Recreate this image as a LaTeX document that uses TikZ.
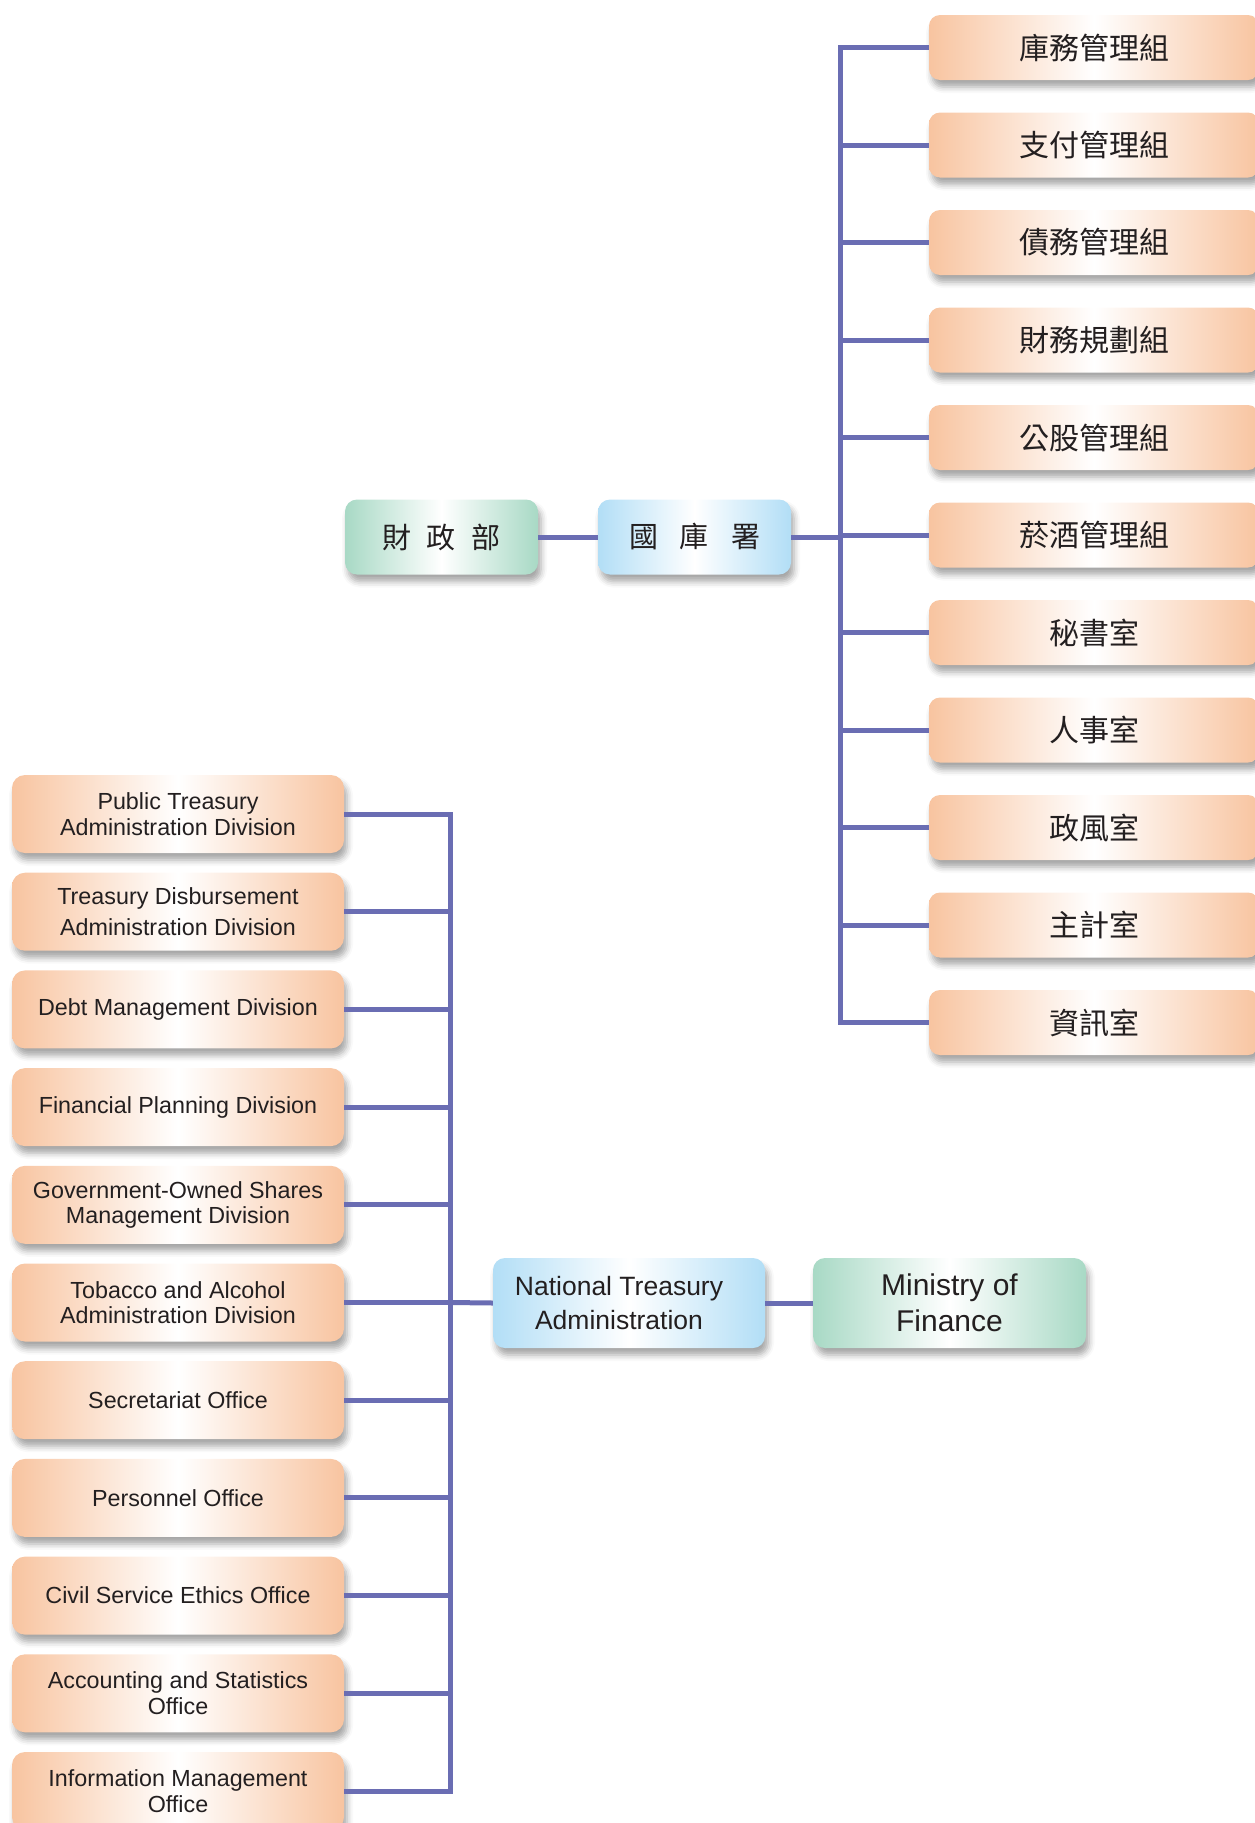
\documentclass[tikz,border=0pt]{standalone}
\usepackage{fontspec}
\setmainfont{Liberation Sans}
\newfontfamily\cjk{Noto Sans CJK TC}
\usetikzlibrary{shadows.blur}
\definecolor{lineC}{HTML}{6A6DB3}
\definecolor{orgC}{HTML}{F8C4A0}
\definecolor{grnC}{HTML}{A8D9C5}
\definecolor{bluC}{HTML}{B2DEF6}
\definecolor{txtC}{HTML}{231F20}
\tikzset{
  boxbase/.style={rounded corners=12pt, text=txtC, align=center, inner sep=0pt,
    blur shadow={shadow xshift=3pt, shadow yshift=-7pt, shadow blur radius=6pt, shadow opacity=35}},
  orgbox/.style={boxbase, left color=orgC, right color=orgC, middle color=white},
  grnbox/.style={boxbase, left color=grnC, right color=grnC, middle color=white},
  blubox/.style={boxbase, left color=bluC, right color=bluC, middle color=white},
  rbox/.style={orgbox, minimum width=330pt, minimum height=65pt, rounded corners=11pt,
    font=\cjk\fontsize{30}{32}\selectfont},
  lbox/.style={orgbox, minimum width=332pt, minimum height=78pt, rounded corners=13pt,
    font=\fontsize{23.3}{25.5}\selectfont},
  plaintext/.style={text=txtC, align=center, inner sep=0pt},
  conn/.style={draw=lineC, line width=5pt}
}
\begin{document}
\begin{tikzpicture}[x=1pt,y=-1pt]
\useasboundingbox (0,0) rectangle (1255,1823);
% top half
\node[grnbox, minimum width=193pt, minimum height=75pt, font=\cjk\fontsize{29}{32}\selectfont]
  (zMOF) at (441.5,537) {財\hspace{16pt}政\hspace{16pt}部};
\node[blubox, minimum width=193pt, minimum height=75pt, font=\cjk\fontsize{29}{32}\selectfont]
  (zNTA) at (694.5,537) {國\hspace{22pt}庫\hspace{22pt}署};
\foreach \i/\t in {1/庫務管理組,2/支付管理組,3/債務管理組,4/財務規劃組,5/公股管理組,6/菸酒管理組,7/秘書室,8/人事室,9/政風室,10/主計室,11/資訊室}{
  \node[rbox] (R\i) at (1094,{47.5+97.5*(\i-1)}) {\t};
}
\coordinate (busR) at (840,0);
\draw[conn, line cap=rect] (R1.west -| busR) -- (R11.west -| busR);
\foreach \i in {1,...,11}{ \draw[conn] (R\i.west) -- (R\i.west -| busR); }
\draw[conn] (zMOF.east) -- (zNTA.west);
\draw[conn] (zNTA.east) -- (zNTA.east -| busR);
% bottom half
\node[lbox] (L1) at (178,814) {Public Treasury\\Administration Division};
\node[lbox, font=\fontsize{23.3}{31}\selectfont] (L2) at (178,911.7) {Treasury Disbursement\\Administration Division};
\node[lbox] (L3) at (178,1009.4) {Debt Management Division};
\node[lbox] (L4) at (178,1107.1) {Financial Planning Division};
\node[lbox] (L5) at (178,1204.8) {Government-Owned Shares\\Management Division};
\node[lbox] (L6) at (178,1302.5) {Tobacco and Alcohol\\Administration Division};
\node[lbox] (L7) at (178,1400.2) {Secretariat Office};
\node[lbox] (L8) at (178,1497.9) {Personnel Office};
\node[lbox] (L9) at (178,1595.6) {Civil Service Ethics Office};
\node[lbox] (L10) at (178,1693.3) {Accounting and Statistics\\Office};
\node[lbox] (L11) at (178,1791) {Information Management\\Office};
\coordinate (busL) at (450,0);
\draw[conn, line cap=rect] (L1.east -| busL) -- (L11.east -| busL);
\foreach \i in {1,...,11}{ \draw[conn] (L\i.east) -- (L\i.east -| busL); }
\node[blubox, minimum width=272pt, minimum height=90pt] (NTA) at (629,1303) {};
\node[plaintext, font=\fontsize{26.5}{34}\selectfont] (NTAt) at ([xshift=-10pt]NTA.center)
  {National Treasury\\Administration};
\node[grnbox, minimum width=273pt, minimum height=90pt, font=\fontsize{30}{36}\selectfont]
  (MOF) at (949.5,1303) {Ministry of\\Finance};
\draw[conn] (L6.east -| busL) -- (NTA.west);
\draw[conn] (NTA.east) -- (MOF.west);
\end{tikzpicture}
\end{document}
